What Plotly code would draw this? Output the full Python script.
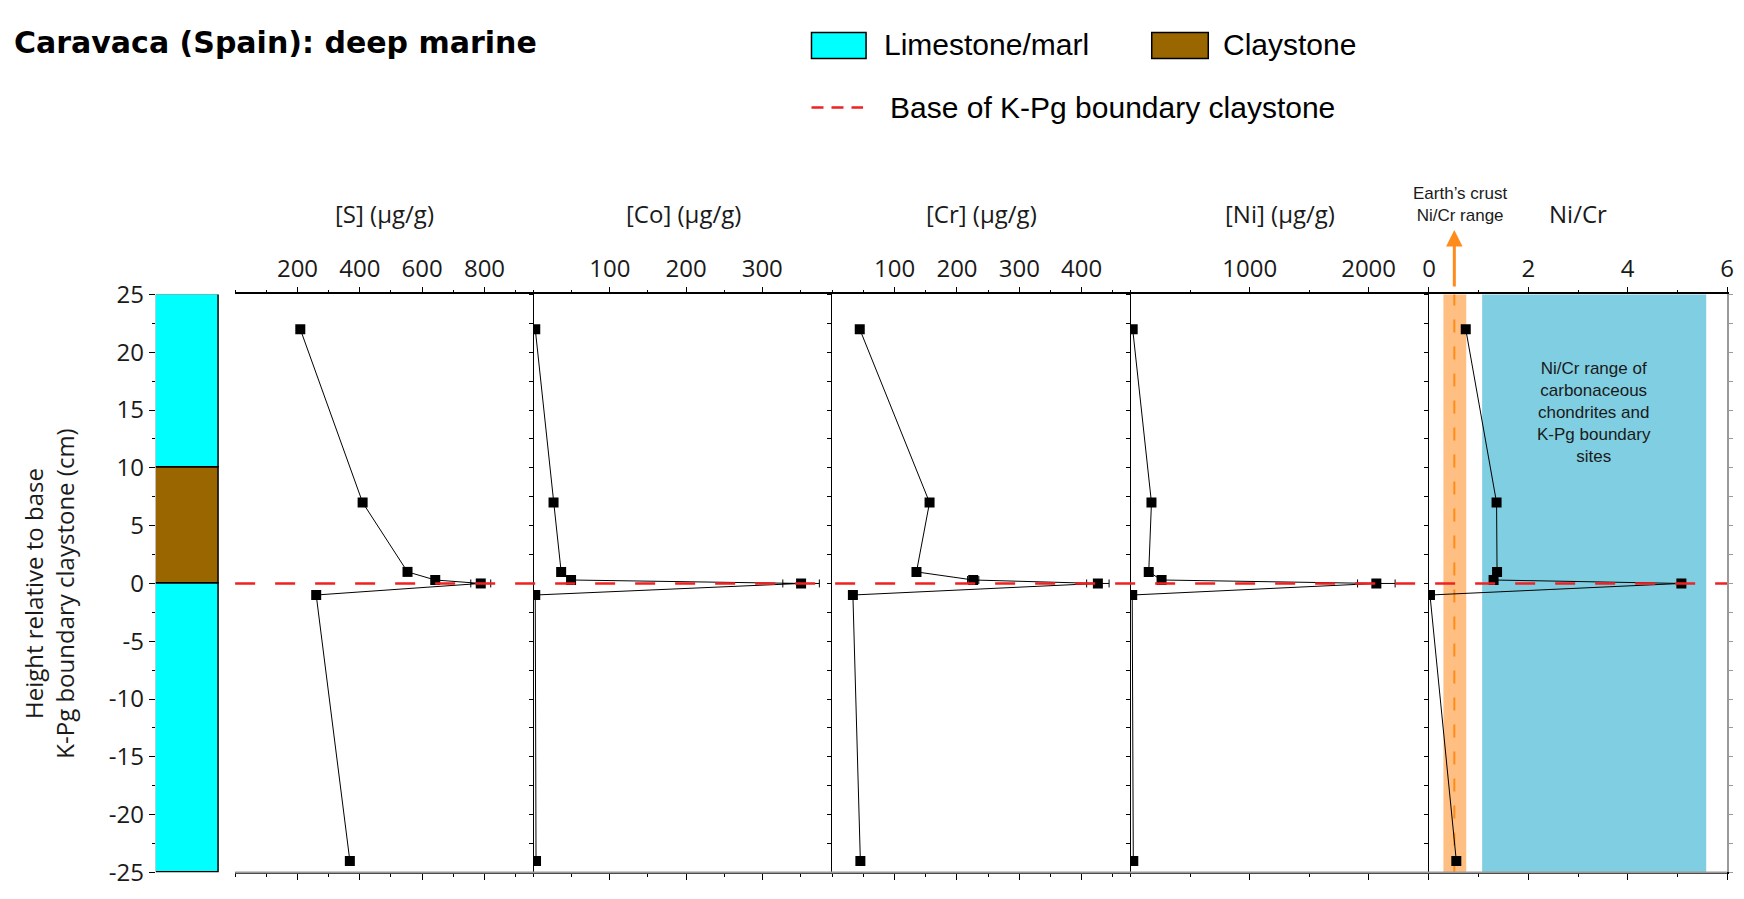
import plotly.graph_objects as go

# ---------------- data ----------------
height_cm = [22, 7, 1, 0.3, 0, -1, -24]
S_ugg = [209, 409, 553, 642, 788, 260, 368]
Co_ugg = [2, 26, 36, 49, 351, 2, 3]
Cr_ugg = [44, 156, 135, 226, 426, 33, 45]
Ni_ugg = [15, 173, 150, 258, 2065, 11, 20]
NiCr = [0.74, 1.36, 1.37, 1.30, 5.08, 0.02, 0.55]

S_err = [0, 0, 0, 10, 32, 0, 0]
Co_err = [0, 0, 0, 0, 24, 0, 0]
Cr_err = [0, 0, 0, 9, 18, 0, 0]
Ni_err = [0, 0, 0, 0, 158, 0, 0]
NiCr_err = [0, 0, 0, 0, 0, 0, 0]

litho_names = ["Limestone/marl", "Claystone", "Limestone/marl"]
litho_base = [-25, 0, 10]
litho_top = [0, 10, 25]

crust_range = [0.29, 0.75]
crust_mid = 0.51
chondrite_range = [1.07, 5.58]

S_ticks = [200, 400, 600, 800]
Co_ticks = [100, 200, 300]
Cr_ticks = [100, 200, 300, 400]
Ni_ticks = [1000, 2000]
NiCr_ticks = [0, 2, 4, 6]
y_ticks = [-25, -20, -15, -10, -5, 0, 5, 10, 15, 20, 25]

# ---------------- layout helpers ----------------
W, H = 1744, 899
def X(p):
    return p / W
def Y(p):
    return 1 - p / H

TOP, BOT = 287, 887
ydom = [Y(BOT), Y(TOP)]
AX_FONT = dict(family="Open Sans", size=24, color="#1a1a1a")

litho_colors = {"Limestone/marl": "#00FFFF", "Claystone": "#996600"}

fig = go.Figure()

# stratigraphic column
fig.add_trace(go.Bar(
    x=[0.5] * len(litho_names),
    y=[t - b for t, b in zip(litho_top, litho_base)],
    base=litho_base, width=1,
    marker=dict(color=[litho_colors[n] for n in litho_names],
                line=dict(color="black", width=1.5)),
    xaxis="x", yaxis="y", showlegend=False, hoverinfo="skip"))

panels = [
    # name, values, err, left px, right px, range, ticks, minor dtick, title
    ("S", S_ugg, S_err, 230, 531, [0, 958], S_ticks, 100, "[S] (µg/g)"),
    ("Co", Co_ugg, Co_err, 531, 832, [0, 392], Co_ticks, 50, "[Co] (µg/g)"),
    ("Cr", Cr_ugg, Cr_err, 832, 1133, [0, 479], Cr_ticks, 50, "[Cr] (µg/g)"),
    ("Ni", Ni_ugg, Ni_err, 1133, 1433.5, [0, 2508], Ni_ticks, 500, "[Ni] (µg/g)"),
    ("NiCr", NiCr, NiCr_err, 1433.5, 1734, [0, 6], NiCr_ticks, 1, "Ni/Cr"),
]

layout_axes = {}
layout_axes["xaxis"] = dict(domain=[X(150), X(214)], range=[0, 1], visible=False,
                            anchor="y", fixedrange=True)
layout_axes["yaxis"] = dict(domain=ydom, range=[-25, 25], anchor="x",
                            tickmode="array", tickvals=y_ticks,
                            ticktext=[str(v) for v in y_ticks],
                            ticks="outside", ticklen=6, tickcolor="black",
                            minor=dict(dtick=2.5, tick0=0, ticks="outside", ticklen=3, tickcolor="black"),
                            showline=False, showgrid=False, zeroline=False,
                            ticklabeloverflow="allow",
                            tickfont=AX_FONT)

annotations = []
shapes = []

for i, (name, vals, err, l, r, rng, tv, mdt, title) in enumerate(panels):
    k = i + 2
    xa, ya = f"x{k}", f"y{k}"
    fig.add_trace(go.Scatter(
        x=vals, y=height_cm, mode="lines+markers",
        line=dict(color="black", width=1),
        marker=dict(symbol="square", size=10, color="black"),
        error_x=dict(type="data", array=err, visible=True, color="black",
                     thickness=1, width=4),
        xaxis=xa, yaxis=ya, showlegend=False, hoverinfo="skip"))
    layout_axes[f"xaxis{k}"] = dict(
        domain=[X(l), X(r)], range=rng, side="top", anchor=ya,
        showline=True, linecolor="black", linewidth=1.5,
        tickmode="array", tickvals=tv, ticktext=[str(v) for v in tv],
        ticks="outside", ticklen=6, tickcolor="black", mirror="ticks",
        minor=dict(dtick=mdt, tick0=0, ticks="outside", ticklen=3, tickcolor="black"),
        showgrid=False, zeroline=False, ticklabeloverflow="allow", tickfont=AX_FONT)
    layout_axes[f"yaxis{k}"] = dict(
        domain=ydom, range=[-25, 25], anchor=xa, showticklabels=False,
        showline=(k > 2), linecolor="black", linewidth=1.2,
        ticks=("outside" if k > 2 else ""), ticklen=4, tickcolor="black",
        tickmode="linear", tick0=0, dtick=2.5,
        showgrid=False, zeroline=False)
    annotations.append(dict(text=title, xref="paper", yref="paper",
                            x=X((l + r) / 2), y=Y(203), showarrow=False,
                            xanchor="center", yanchor="middle", font=AX_FONT))

# right gray border of Ni/Cr panel
fig.add_trace(go.Scatter(x=[0], y=[0], mode="markers", marker=dict(opacity=0),
                         xaxis="x6", yaxis="y7", showlegend=False, hoverinfo="skip"))
layout_axes["yaxis7"] = dict(overlaying="y6", side="right", anchor="x6", range=[-25, 25],
                             showline=True, linecolor="#9a9a9a", linewidth=1.5,
                             ticks="outside", ticklen=4, tickcolor="#9a9a9a",
                             tickmode="linear", tick0=0, dtick=2.5,
                             showticklabels=False, showgrid=False, zeroline=False)

# Ni/Cr shaded ranges
shapes.append(dict(type="rect", xref="x6", yref="y6 domain", x0=crust_range[0], x1=crust_range[1],
                   y0=0, y1=1, fillcolor="#FFBE82", line=dict(width=0), layer="below"))
shapes.append(dict(type="rect", xref="x6", yref="y6 domain", x0=chondrite_range[0], x1=chondrite_range[1],
                   y0=0, y1=1, fillcolor="#80CEE1", line=dict(width=0), layer="below"))
shapes.append(dict(type="line", xref="x6", yref="y6 domain", x0=crust_mid, x1=crust_mid,
                   y0=0, y1=1, line=dict(color="#FF8C1A", width=2, dash="13px,14px"), layer="below"))

# K-Pg boundary base line
shapes.append(dict(type="line", xref="paper", yref="y", x0=X(230), x1=X(1734), y0=0, y1=0,
                   line=dict(color="#EE2222", width=2.5, dash="20px,20px"), layer="above"))
# bottom gray frame line
shapes.append(dict(type="line", xref="paper", yref="paper", x0=X(230), x1=X(1734), y0=Y(BOT), y1=Y(BOT),
                   line=dict(color="#9a9a9a", width=2)))

SMALL_FONT = dict(family="Liberation Sans", size=17, color="#1a1a1a")
annotations.append(dict(text="Ni/Cr range of<br>carbonaceous<br>chondrites and<br>K-Pg boundary<br>sites",
                        xref="x6", yref="paper", x=sum(chondrite_range) / 2, y=Y(410),
                        showarrow=False, xanchor="center", yanchor="middle", align="center",
                        font=SMALL_FONT))
annotations.append(dict(text="Earth’s crust<br>Ni/Cr range", xref="x6", yref="paper",
                        x=crust_mid + 0.12, y=Y(194), showarrow=False, xanchor="center",
                        yanchor="middle", align="center", font=SMALL_FONT))
annotations.append(dict(text="", xref="x6", yref="paper", x=crust_mid, y=Y(220),
                        showarrow=True, ax=0, ay=58, arrowhead=2, arrowsize=1.1,
                        arrowwidth=3, arrowcolor="#FF8C1A", standoff=0))

# y-axis title
annotations.append(dict(text="Height relative to base<br>K-Pg boundary claystone (cm)",
                        xref="paper", yref="paper", x=X(42), y=Y(598), textangle=-90,
                        showarrow=False, xanchor="center", yanchor="middle", align="center",
                        font=AX_FONT))

# title
annotations.append(dict(text="<b>Caravaca (Spain): deep marine</b>", xref="paper", yref="paper",
                        x=X(5), y=Y(25), showarrow=False, xanchor="left", yanchor="middle",
                        font=dict(family="DejaVu Sans", size=30, color="black")))

# legend (drawn manually)
LEG_FONT = dict(family="Liberation Sans", size=30, color="black")
shapes.append(dict(type="rect", xref="paper", yref="paper", x0=X(811), x1=X(866), y0=Y(42), y1=Y(15),
                   fillcolor=litho_colors["Limestone/marl"], line=dict(color="black", width=1.5)))
shapes.append(dict(type="rect", xref="paper", yref="paper", x0=X(1154), x1=X(1211), y0=Y(42), y1=Y(15),
                   fillcolor=litho_colors["Claystone"], line=dict(color="black", width=1.5)))
shapes.append(dict(type="line", xref="paper", yref="paper", x0=X(811), x1=X(863), y0=Y(93), y1=Y(93),
                   line=dict(color="#EE2222", width=2.5, dash="12px,8px")))
annotations.append(dict(text="Limestone/marl", xref="paper", yref="paper", x=X(882), y=Y(28),
                        showarrow=False, xanchor="left", yanchor="middle", font=LEG_FONT))
annotations.append(dict(text="Claystone", xref="paper", yref="paper", x=X(1224), y=Y(28),
                        showarrow=False, xanchor="left", yanchor="middle", font=LEG_FONT))
annotations.append(dict(text="Base of K-Pg boundary claystone", xref="paper", yref="paper",
                        x=X(888), y=Y(93), showarrow=False, xanchor="left", yanchor="middle",
                        font=LEG_FONT))

fig.update_layout(
    width=W, height=H, autosize=False,
    margin=dict(l=0, r=0, t=0, b=0),
    paper_bgcolor="white", plot_bgcolor="white",
    showlegend=False, bargap=0,
    annotations=annotations, shapes=shapes,
    **layout_axes)

fig.write_html("out.html")
